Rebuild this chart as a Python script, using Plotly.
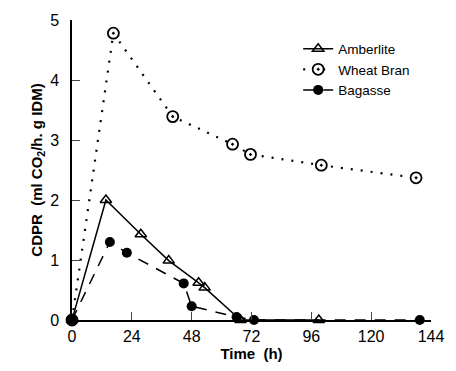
import plotly.graph_objects as go

amb_x = [0, 13.6, 27.6, 38.8, 50.8, 53.2, 67.6, 99]
amb_y = [0, 2.0, 1.43, 0.99, 0.62, 0.54, 0.0, 0.0]

wb_x = [0, 16.6, 40.4, 64.4, 71.6, 100, 138]
wb_y = [0, 4.78, 3.39, 2.93, 2.76, 2.58, 2.37]

bag_x = [0, 15.2, 22, 44.8, 48, 66, 73, 139.5]
bag_y = [0, 1.30, 1.12, 0.61, 0.23, 0.05, 0.0, 0.0]

x_ticks = [0, 24, 48, 72, 96, 120, 144]
y_ticks = [0, 1, 2, 3, 4, 5]

fig = go.Figure()
fig.add_trace(go.Scatter(
    x=amb_x, y=amb_y, name="Amberlite", mode="lines+markers",
    line=dict(color="black", width=1.5),
    marker=dict(symbol="triangle-up-open", size=10, color="black", line=dict(width=1.5)),
    cliponaxis=False))
fig.add_trace(go.Scatter(
    x=wb_x, y=wb_y, name="Wheat Bran", mode="lines+markers",
    line=dict(color="black", width=2.2, dash="2px,8px"),
    marker=dict(symbol="circle-dot", size=11, color="white", line=dict(color="black", width=1.8)),
    cliponaxis=False))
fig.add_trace(go.Scatter(
    x=bag_x, y=bag_y, name="Bagasse", mode="lines+markers",
    line=dict(color="black", width=1.5, dash="11px,9px"),
    marker=dict(symbol="circle", size=10, color="black"),
    cliponaxis=False))

font = "Liberation Sans, Arial, sans-serif"
fig.update_layout(
    width=456, height=371,
    margin=dict(l=72, r=21, t=15, b=51),
    plot_bgcolor="white", paper_bgcolor="white",
    font=dict(family=font, color="black", size=14),
    showlegend=True,
    legend=dict(x=0.63, y=0.955, xanchor="left", yanchor="top",
                bgcolor="rgba(0,0,0,0)", font=dict(size=13.5),
                tracegroupgap=6),
    xaxis=dict(range=[0, 144], tickvals=x_ticks, ticks="inside", ticklen=8,
               showline=True, linecolor="black", linewidth=1.5, showgrid=False,
               zeroline=False, tickfont=dict(size=16), ticklabelstandoff=1,
               title=dict(text="Time  (h)", font=dict(size=15, weight="bold"), standoff=2)),
    yaxis=dict(range=[0, 5], tickvals=y_ticks, ticks="inside", ticklen=8,
               showline=True, linecolor="black", linewidth=1.5, showgrid=False,
               zeroline=False, tickfont=dict(size=16), ticklabelstandoff=8,
               title=dict(text="CDPR  (ml CO<sub>2</sub>/h. g IDM)", font=dict(size=15, weight="bold"), standoff=4)),
)
fig.write_html("out.html")
